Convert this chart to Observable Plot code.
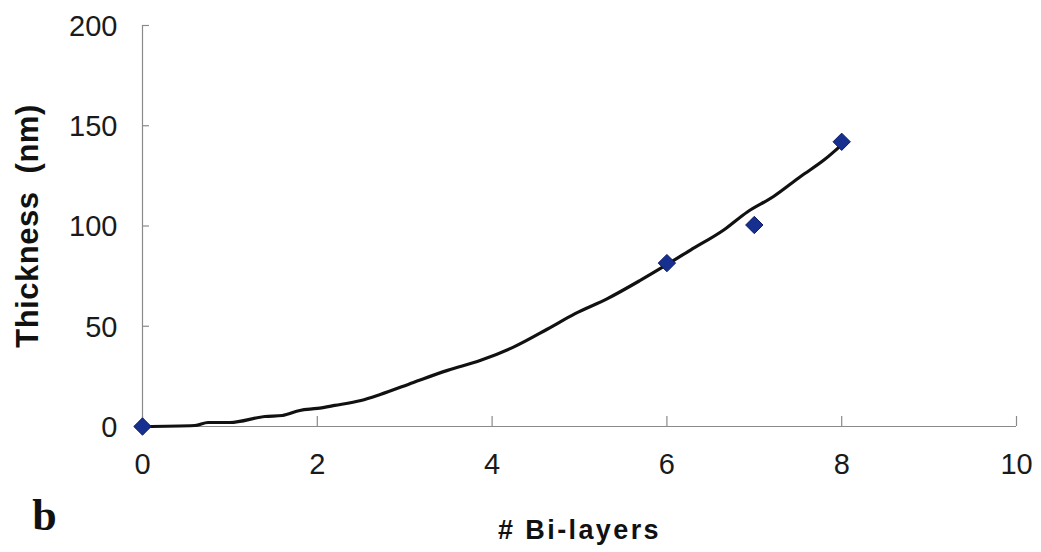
<!DOCTYPE html>
<html>
<head>
<meta charset="utf-8">
<script src="https://cdn.jsdelivr.net/npm/d3@7"></script>
<script src="https://cdn.jsdelivr.net/npm/@observablehq/plot@0.6"></script>
<style>
  html, body { margin: 0; padding: 0; background: #fff; }
  #chart { width: 1041px; height: 552px; }
</style>
</head>
<body>
<div id="chart"></div>
<script>
// Measured points (blue diamonds)
const layers = [0, 6, 7, 8];
const thickness = [0, 81.5, 100.5, 142];

// Trend curve
const curveX = [0, 0.6, 0.75, 1.0, 1.4, 1.6, 1.8, 2.0, 2.2, 2.5, 2.72, 3.1, 3.49, 3.87, 4.25, 4.63, 4.95, 5.32, 5.7, 5.96, 6.27, 6.65, 6.92, 7.22, 7.53, 7.8, 8.0];
const curveY = [0, 0.5, 2, 2, 5, 5.5, 8, 9, 10.5, 13, 16, 22, 28, 33, 39.7, 48.5, 56.3, 63.8, 73, 79.7, 88, 98, 107, 114.7, 124.7, 133, 140.5];

// Tick labels
const xTicks = [0, 2, 4, 6, 8, 10];
const yTicks = [0, 50, 100, 150, 200];

const points = layers.map((x, i) => ({x, y: thickness[i]}));
const curve = curveX.map((x, i) => ({x, y: curveY[i]}));

const font = "'Liberation Sans', Arial, sans-serif";
const axisGray = "#8a8a8a";

const chart = Plot.plot({
  width: 1041,
  height: 552,
  marginLeft: 142,
  marginRight: 25,
  marginTop: 25,
  marginBottom: 126,
  style: {fontFamily: font, background: "#fff", overflow: "visible"},
  x: {domain: [0, 10], axis: null},
  y: {domain: [0, 200], axis: null},
  marks: [
    // axis lines
    Plot.ruleX([0], {stroke: axisGray, strokeWidth: 1.2}),
    Plot.ruleY([0], {stroke: axisGray, strokeWidth: 1.2}),
    // inward tick marks
    Plot.axisX(xTicks, {anchor: "bottom", label: null, tickSize: -10, stroke: axisGray, strokeWidth: 1.2, tickFormat: () => ""}),
    Plot.axisY(yTicks, {anchor: "left", label: null, tickSize: -7, stroke: axisGray, strokeWidth: 1.2, tickFormat: () => ""}),
    // tick labels
    Plot.text(xTicks, {x: d => d, text: d => String(d), frameAnchor: "bottom", dy: 47.5, fontSize: 29, fill: "#1a1a1a", textAnchor: "middle"}),
    Plot.text(yTicks, {y: d => d, text: d => String(d), frameAnchor: "left", dx: -25, dy: 1, fontSize: 29, fill: "#1a1a1a", textAnchor: "end"}),
    // trend curve
    Plot.line(curve, {x: "x", y: "y", stroke: "#111", strokeWidth: 3.2, curve: "monotone-x"}),
    // data points
    Plot.dot(points, {x: "x", y: "y", symbol: "diamond2", r: 7.8, fill: "#17308f", stroke: "#0b1a66", strokeWidth: 1}),
    // axis titles
    Plot.text(["Thickness  (nm)"], {text: d => d, frameAnchor: "left", dx: -114, rotate: -90, textAnchor: "middle", fontSize: 31, fontWeight: "bold", fill: "#111"}),
    Plot.text(["# Bi-layers"], {text: d => d, frameAnchor: "bottom", dy: 112, textAnchor: "middle", fontSize: 27, fontWeight: "bold", fill: "#111"}),
    Plot.text(["b"], {text: d => d, frameAnchor: "bottom-left", dx: -98, dy: 103, fontSize: 44, fontWeight: "bold", fontFamily: "'Liberation Serif', 'Times New Roman', serif", fill: "#111", textAnchor: "middle"})
  ]
});

d3.select(chart).selectAll("text")
  .filter(function() { return this.textContent === "# Bi-layers"; })
  .style("letter-spacing", "2.4px");
d3.select(chart).selectAll("text")
  .filter(function() { return this.textContent === "Thickness  (nm)"; })
  .style("white-space", "pre").style("letter-spacing", "0.5px");

document.getElementById("chart").appendChild(chart);
</script>
</body>
</html>
